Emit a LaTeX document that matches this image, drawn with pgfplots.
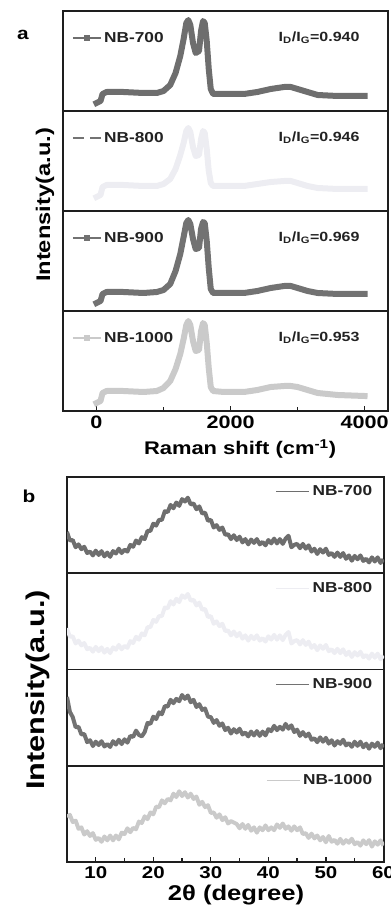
\documentclass[border=0pt]{standalone}
\usepackage{fontspec}
\setmainfont{Liberation Sans}[FakeStretch=1.2]
\usepackage{pgfplots}
\usepackage{pgfplotstable}
\pgfplotsset{compat=1.18}

\definecolor{cA}{HTML}{6E6E6E}
\definecolor{cB}{HTML}{EDEDF2}
\definecolor{cC}{HTML}{727272}
\definecolor{cD}{HTML}{CACACA}
\definecolor{frame}{HTML}{1E1E1E}
\definecolor{txt}{HTML}{222222}

\pgfplotstableread{
x a b c d
0 0.08 0.14 0.08 0.08
60 0.10 0.16 0.10 0.10
90 0.17 0.24 0.17 0.18
150 0.19 0.26 0.19 0.20
400 0.19 0.26 0.19 0.20
700 0.18 0.25 0.18 0.19
900 0.18 0.25 0.19 0.20
1000 0.20 0.27 0.21 0.23
1100 0.26 0.32 0.27 0.30
1180 0.38 0.42 0.40 0.42
1250 0.55 0.56 0.57 0.57
1300 0.72 0.68 0.74 0.72
1340 0.88 0.80 0.88 0.86
1370 0.91 0.83 0.91 0.90
1400 0.86 0.79 0.87 0.86
1440 0.68 0.64 0.72 0.70
1480 0.58 0.55 0.62 0.60
1530 0.60 0.56 0.63 0.61
1560 0.80 0.72 0.82 0.80
1590 0.90 0.80 0.89 0.88
1615 0.88 0.78 0.88 0.86
1645 0.70 0.62 0.70 0.68
1675 0.42 0.40 0.43 0.43
1705 0.22 0.28 0.22 0.24
1740 0.17 0.25 0.18 0.20
1900 0.17 0.25 0.18 0.19
2200 0.17 0.25 0.18 0.19
2400 0.19 0.27 0.20 0.21
2600 0.22 0.29 0.23 0.24
2800 0.24 0.30 0.25 0.25
2900 0.24 0.30 0.25 0.25
3000 0.22 0.28 0.23 0.24
3150 0.19 0.25 0.20 0.21
3300 0.16 0.23 0.18 0.18
3600 0.15 0.22 0.17 0.16
4000 0.15 0.22 0.17 0.15
}\raman

\pgfplotstableread{
x a c d
5 0.43 0.715 0.47
5.5 0.34 0.56 0.49
6 0.345 0.505 0.415
6.5 0.27 0.40 0.43
7 0.30 0.405 0.345
7.5 0.25 0.325 0.36
8 0.275 0.33 0.285
8.5 0.21 0.245 0.32
9 0.225 0.265 0.27
9.5 0.185 0.205 0.30
10 0.235 0.25 0.23
10.5 0.19 0.215 0.25
11 0.23 0.255 0.21
11.5 0.175 0.20 0.265
12 0.215 0.225 0.225
12.5 0.17 0.195 0.275
13 0.23 0.255 0.225
13.5 0.205 0.22 0.275
14 0.255 0.27 0.235
14.5 0.21 0.225 0.305
15 0.245 0.275 0.29
15.5 0.225 0.24 0.35
16 0.295 0.31 0.31
16.5 0.275 0.30 0.355
17 0.34 0.365 0.34
17.5 0.31 0.32 0.42
18 0.375 0.305 0.405
18.5 0.355 0.35 0.475
19 0.44 0.445 0.445
19.5 0.44 0.435 0.515
20 0.515 0.51 0.495
20.5 0.495 0.485 0.575
21 0.555 0.555 0.57
21.5 0.555 0.535 0.64
22 0.645 0.62 0.61
22.5 0.635 0.615 0.655
23 0.71 0.685 0.64
23.5 0.675 0.65 0.71
24 0.735 0.695 0.675
24.5 0.70 0.67 0.735
25 0.77 0.735 0.685
25.5 0.745 0.695 0.725
26 0.785 0.73 0.67
26.5 0.715 0.66 0.71
27 0.725 0.685 0.655
27.5 0.665 0.61 0.68
28 0.695 0.64 0.595
28.5 0.62 0.58 0.625
29 0.63 0.595 0.57
29.5 0.545 0.51 0.59
30 0.555 0.505 0.51
30.5 0.475 0.445 0.515
31 0.50 0.475 0.46
31.5 0.45 0.415 0.495
32 0.475 0.44 0.435
32.5 0.40 0.37 0.465
33 0.405 0.395 0.40
33.5 0.355 0.335 0.425
34 0.395 0.38 0.41
34.5 0.345 0.345 0.395
35 0.38 0.385 0.35
35.5 0.32 0.325 0.395
36 0.355 0.345 0.345
36.5 0.30 0.305 0.385
37 0.35 0.355 0.325
37.5 0.315 0.315 0.36
38 0.355 0.36 0.305
38.5 0.30 0.31 0.36
39 0.325 0.355 0.33
39.5 0.29 0.315 0.38
40 0.345 0.38 0.33
40.5 0.31 0.36 0.36
41 0.36 0.415 0.33
41.5 0.31 0.37 0.39
42 0.355 0.405 0.355
42.5 0.305 0.375 0.40
43 0.36 0.435 0.345
43.5 0.39 0.385 0.37
44 0.27 0.42 0.325
44.5 0.295 0.35 0.37
45 0.305 0.375 0.33
45.5 0.26 0.31 0.36
46 0.305 0.35 0.29
46.5 0.255 0.305 0.30
47 0.29 0.335 0.25
47.5 0.225 0.27 0.295
48 0.255 0.285 0.245
48.5 0.20 0.245 0.275
49 0.25 0.295 0.225
49.5 0.215 0.25 0.26
50 0.255 0.29 0.205
50.5 0.19 0.23 0.27
51 0.21 0.265 0.21
51.5 0.17 0.21 0.23
52 0.215 0.255 0.19
52.5 0.17 0.227 0.24
53 0.21 0.27 0.19
53.5 0.15 0.212 0.227
54 0.185 0.235 0.20
54.5 0.13 0.197 0.242
55 0.18 0.25 0.185
55.5 0.145 0.207 0.207
56 0.185 0.25 0.17
56.5 0.128 0.192 0.225
57 0.15 0.23 0.185
57.5 0.113 0.177 0.227
58 0.165 0.23 0.16
58.5 0.122 0.197 0.215
59 0.165 0.24 0.18
59.5 0.107 0.182 0.225
60 0.145 0.225 0.17
}\xrd

\tikzset{idig/.style={font=\fontsize{10}{12}\selectfont\bfseries, text=txt}}

\pgfplotsset{
  base/.style={scale only axis, anchor=south west,
    axis line style={line width=1.2pt, draw=frame},
    xtick=\empty, ytick=\empty, ymin=0, ymax=1,
    legend style={draw=none, fill=none, inner sep=0pt,
      font=\fontsize{10.8}{12}\selectfont\bfseries, text=txt},
    /pgf/number format/assume math mode=true,
    /pgf/number format/1000 sep={}, scaled x ticks=false},
  ra/.style={base, width=243.75pt, height=75pt, xmin=-500, xmax=4350,
    legend style={at={(0.028,0.73)}, anchor=west},
    legend image code/.code={\draw[mark repeat=2,mark phase=2,##1] plot coordinates {(0pt,0pt) (10.5pt,0pt) (21pt,0pt)};}},
  rb/.style={base, width=237.75pt, height=72.1875pt, xmin=5, xmax=60.1,
    legend style={at={(0.972,0.845)}, anchor=east},
    legend image code/.code={\draw[##1, line width=0.8pt] (0pt,0pt) -- (24.75pt,0pt);}},
  btm/.style={xtick pos=bottom, tick align=inside, major tick length=4pt, minor tick length=3pt,
    tick style={line width=1pt, draw=frame},
    xticklabel style={text=black}},
  rtrace/.style={forget plot, line width=4.5pt, line join=round, line cap=rect},
  xtrace/.style={forget plot, line width=3pt, line join=round},
}

\begin{document}
\begin{tikzpicture}
\useasboundingbox (0,0) rectangle (293.25pt,686.25pt);

% ---------- Panel a: Raman ----------
\begin{axis}[ra, at={(47.25pt,603pt)}]
\addplot[rtrace, cA] table[x=x,y=a]{\raman};
\addlegendimage{cA, line width=0.8pt, mark=square*, mark size=1.6pt}
\addlegendentry{NB-700}
\node[idig] at (rel axis cs:0.788,0.73) {I\textsubscript{D}/I\textsubscript{G}=0.940};
\end{axis}

\begin{axis}[ra, at={(47.25pt,528pt)}]
\addplot[rtrace, cB] table[x=x,y=b]{\raman};
\addlegendimage{gray!90!black, line width=0.8pt, mark=square*, mark size=1.6pt, mark options={draw=white, fill=white}}
\addlegendentry{NB-800}
\node[idig] at (rel axis cs:0.788,0.73) {I\textsubscript{D}/I\textsubscript{G}=0.946};
\end{axis}

\begin{axis}[ra, at={(47.25pt,453pt)}]
\addplot[rtrace, cC] table[x=x,y=c]{\raman};
\addlegendimage{cC, line width=0.8pt, mark=square*, mark size=1.6pt}
\addlegendentry{NB-900}
\node[idig] at (rel axis cs:0.788,0.73) {I\textsubscript{D}/I\textsubscript{G}=0.969};
\end{axis}

\begin{axis}[ra, btm, at={(47.25pt,378pt)},
  xtick={0,2000,4000}, minor xtick={1000,3000},
  xticklabel style={font=\fontsize{13.5}{15}\selectfont\bfseries},
  xlabel={Raman shift (cm\textsuperscript{-1})},
  xlabel style={at={(axis description cs:0.545,-0.38)}, anchor=center,
    font=\fontsize{13.7}{15}\selectfont\bfseries}]
\addplot[rtrace, cD] table[x=x,y=d]{\raman};
\addlegendimage{cD, line width=0.8pt, mark=square*, mark size=1.6pt}
\addlegendentry{NB-1000}
\node[idig] at (rel axis cs:0.788,0.73) {I\textsubscript{D}/I\textsubscript{G}=0.953};
\end{axis}

% ---------- Panel b: XRD ----------
\begin{axis}[rb, at={(50.25pt,256.3125pt)}]
\addplot[xtrace, cA] table[x=x,y=a]{\xrd};
\addlegendimage{cA}
\addlegendentry{NB-700}
\end{axis}

\begin{axis}[rb, at={(50.25pt,184.125pt)}]
\addplot[xtrace, cB] table[x=x,y=a]{\xrd};
\addlegendimage{cB}
\addlegendentry{NB-800}
\end{axis}

\begin{axis}[rb, at={(50.25pt,111.9375pt)}]
\addplot[xtrace, cC] table[x=x,y=c]{\xrd};
\addlegendimage{cC}
\addlegendentry{NB-900}
\end{axis}

\begin{axis}[rb, btm, at={(50.25pt,39.75pt)},
  xtick={10,20,30,40,50,60}, minor xtick={5,15,25,35,45,55},
  xticklabel style={font=\fontsize{12.8}{14}\selectfont\bfseries},
  xlabel={2θ (degree)},
  xlabel style={at={(axis description cs:0.533,-0.345)}, anchor=center,
    font=\fontsize{16}{18}\selectfont\bfseries}]
\addplot[xtrace, cD] table[x=x,y=d]{\xrd};
\addlegendimage{cD}
\addlegendentry{NB-1000}
\end{axis}

% ---------- labels ----------
\node[font=\fontsize{13}{15}\selectfont\bfseries] at (17.25pt,660pt) {a};
\node[font=\fontsize{13}{15}\selectfont\bfseries] at (21.75pt,314.25pt) {b};
\node[rotate=90, font=\fontsize{14.8}{16}\selectfont\bfseries] at (33.75pt,532.5pt) {Intensity(a.u.)};
\node[rotate=90, font=\fontsize{19.2}{21}\selectfont\bfseries] at (28.5pt,168.75pt) {Intensity(a.u.)};
\end{tikzpicture}
\end{document}
